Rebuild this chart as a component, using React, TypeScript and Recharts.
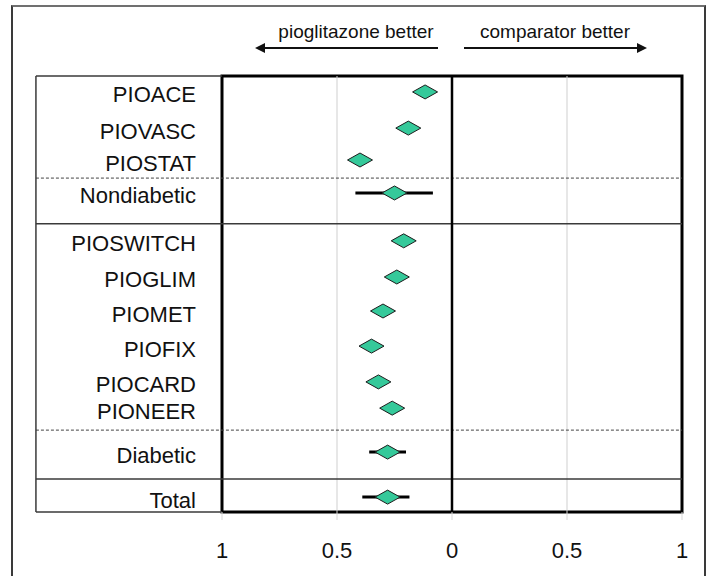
import React from "react";
import {
  ComposedChart,
  Scatter,
  XAxis,
  YAxis,
  ReferenceLine,
  ReferenceArea,
} from "recharts";

// study names, top to bottom
const studies = [
  "PIOACE",
  "PIOVASC",
  "PIOSTAT",
  "Nondiabetic",
  "PIOSWITCH",
  "PIOGLIM",
  "PIOMET",
  "PIOFIX",
  "PIOCARD",
  "PIONEER",
  "Diabetic",
  "Total",
];
// vertical row position (row units, 0 = top of box)
const rowPos = [0.45, 1.47, 2.37, 3.3, 4.65, 5.67, 6.63, 7.62, 8.63, 9.37, 10.61, 11.88];
// point estimates (negative = pioglitazone better)
const estimates = [-0.117, -0.19, -0.4, -0.25, -0.21, -0.24, -0.3, -0.35, -0.32, -0.26, -0.28, -0.28];
// confidence limits, only for pooled rows
const ciLow: (number | null)[] = [null, null, null, -0.42, null, null, null, null, null, null, -0.36, -0.39];
const ciHigh: (number | null)[] = [null, null, null, -0.083, null, null, null, null, null, null, -0.2, -0.185];

const xTicks = [-1, -0.5, 0, 0.5, 1];
const dashedRows = [2.88, 9.99];
const solidRows = [4.17, 11.37];
const rowMax = 12.3;
const panelLeft = -1.809;

const data = studies.map((name, i) => ({
  name,
  row: rowPos[i],
  est: estimates[i],
  lo: ciLow[i],
  hi: ciHigh[i],
}));

const font = '"Liberation Sans", Arial, Helvetica, sans-serif';

function Diamond(props: any) {
  const { cx, cy } = props;
  if (cx == null || cy == null) return null;
  const w = 12.5;
  const h = 7;
  return (
    <polygon
      points={`${cx - w},${cy} ${cx},${cy - h} ${cx + w},${cy} ${cx},${cy + h}`}
      fill="#35c99a"
      stroke="#1d1d1d"
      strokeWidth={1}
    />
  );
}

function StudyTick(props: any) {
  const { x, y, payload } = props;
  const idx = rowPos.indexOf(payload.value);
  return (
    <text
      x={x}
      y={y + 3}
      textAnchor="end"
      dominantBaseline="central"
      fontFamily={font}
      fontSize={22}
      fill="#111"
    >
      {idx >= 0 ? studies[idx] : ""}
    </text>
  );
}

function Header() {
  return (
    <svg
      width={709}
      height={70}
      style={{ position: "absolute", left: 0, top: 0, pointerEvents: "none" }}
    >
      <defs>
        <marker id="ah" markerWidth="12" markerHeight="12" refX="7" refY="5" orient="auto" markerUnits="userSpaceOnUse">
          <path d="M0,0 L10,5 L0,10 z" fill="#111" />
        </marker>
      </defs>
      <text x={356} y={38} textAnchor="middle" fontFamily={font} fontSize={19} fill="#111">
        pioglitazone better
      </text>
      <text x={555} y={38} textAnchor="middle" fontFamily={font} fontSize={19} fill="#111">
        comparator better
      </text>
      <line x1={438} y1={48} x2={258} y2={48} stroke="#111" strokeWidth={2} markerEnd="url(#ah)" />
      <line x1={464} y1={48} x2={644} y2={48} stroke="#111" strokeWidth={2} markerEnd="url(#ah)" />
    </svg>
  );
}

export default function App() {
  return (
    <div style={{ position: "relative", width: 709, height: 576, overflow: "hidden", background: "#fff" }}>
      <style>{"body{margin:0}"}</style>
      <div
        style={{
          position: "absolute",
          left: 11,
          top: 5,
          width: 691,
          height: 620,
          borderLeft: "2px solid #3a3a3a",
          borderRight: "2px solid #3a3a3a",
          borderTop: "2px solid #707070",
        }}
      />
      <Header />
      <ComposedChart
        width={709}
        height={576}
        data={data}
        margin={{ top: 76, right: 27, bottom: 34, left: 0 }}
        style={{ position: "absolute", left: 0, top: 0 }}
      >
        <XAxis
          type="number"
          dataKey="est"
          domain={[-1, 1]}
          ticks={xTicks}
          tickFormatter={(v) => String(Math.abs(v))}
          axisLine={false}
          tickLine={{ stroke: "#d8d8d8" }}
          tickSize={8}
          tickMargin={22}
          height={30}
          tick={{ fontSize: 22, fill: "#111", fontFamily: font }}
          allowDataOverflow
        />
        <YAxis
          type="number"
          dataKey="row"
          domain={[0, rowMax]}
          reversed
          ticks={rowPos}
          interval={0}
          width={222}
          axisLine={false}
          tickLine={false}
          tickSize={0}
          tickMargin={26}
          tick={<StudyTick />}
          allowDataOverflow
        />
        {xTicks
          .filter((t) => t !== 0 && Math.abs(t) !== 1)
          .map((t) => (
            <ReferenceLine key={t} x={t} stroke="#cfcfcf" strokeWidth={1} />
          ))}
        {dashedRows.map((r) => (
          <ReferenceLine
            key={"d" + r}
            segment={[{ x: panelLeft, y: r }, { x: 1, y: r }]}
            ifOverflow="visible"
            stroke="#444"
            strokeDasharray="3 2"
            strokeWidth={1}
          />
        ))}
        {solidRows.map((r) => (
          <ReferenceLine
            key={"s" + r}
            segment={[{ x: panelLeft, y: r }, { x: 1, y: r }]}
            ifOverflow="visible"
            stroke="#3a3a3a"
            strokeWidth={1.5}
          />
        ))}
        <ReferenceLine
          segment={[{ x: panelLeft, y: 0 }, { x: -1, y: 0 }]}
          ifOverflow="visible"
          stroke="#3a3a3a"
          strokeWidth={1.5}
        />
        <ReferenceLine
          segment={[{ x: panelLeft, y: rowMax }, { x: -1, y: rowMax }]}
          ifOverflow="visible"
          stroke="#3a3a3a"
          strokeWidth={1.5}
        />
        <ReferenceLine
          segment={[{ x: panelLeft, y: 0 }, { x: panelLeft, y: rowMax }]}
          ifOverflow="visible"
          stroke="#3a3a3a"
          strokeWidth={1.5}
        />
        <ReferenceLine x={0} stroke="#000" strokeWidth={2.5} />
        <ReferenceArea
          x1={-1}
          x2={1}
          y1={0}
          y2={rowMax}
          fill="none"
          fillOpacity={0}
          stroke="#000"
          strokeWidth={3}
          ifOverflow="visible"
        />
        {data
          .filter((d) => d.lo != null && d.hi != null)
          .map((d) => (
            <ReferenceLine
              key={"ci" + d.name}
              segment={[{ x: d.lo as number, y: d.row }, { x: d.hi as number, y: d.row }]}
              stroke="#000"
              strokeWidth={3}
            />
          ))}
        <Scatter dataKey="row" shape={<Diamond />} isAnimationActive={false} />
      </ComposedChart>
    </div>
  );
}
